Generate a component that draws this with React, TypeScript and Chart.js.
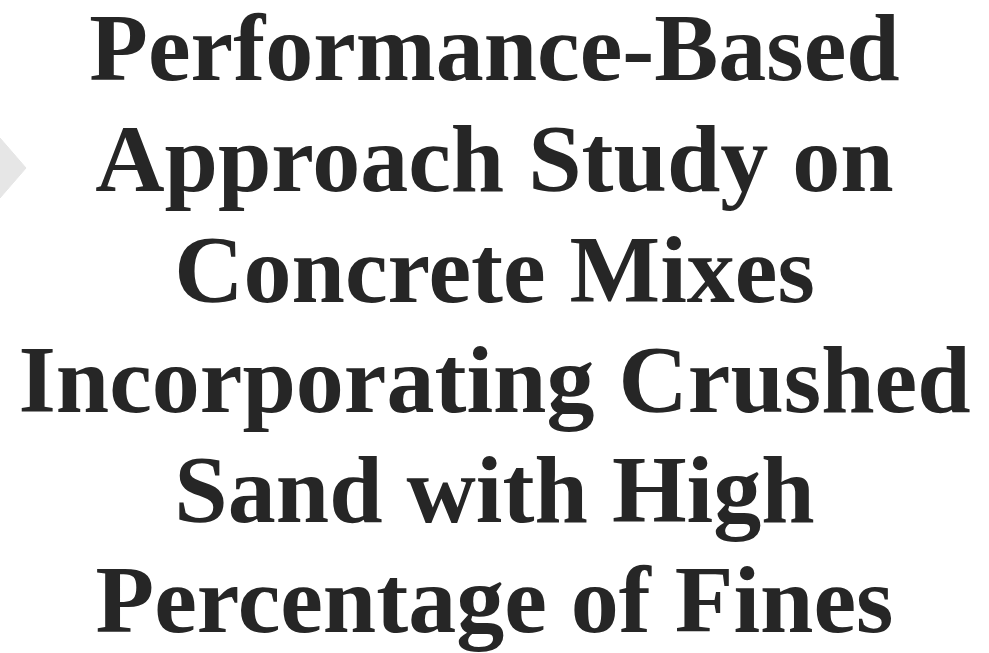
import React, { useEffect, useRef } from "react";
import { Chart, registerables } from "chart.js";

Chart.register(...registerables);

const titleLines: string[] = [
  "Performance-Based",
  "Approach Study on",
  "Concrete Mixes",
  "Incorporating Crushed",
  "Sand with High",
  "Percentage of Fines",
];
const titleBaselines: number[] = [80, 191, 301.5, 412, 522, 632];

const arrowX: number[] = [0, 26, 0, 0];
const arrowY: number[] = [138, 168, 198, 138];

const W = 989;
const H = 653;

const titlePlugin = {
  id: "bigTitle",
  afterDraw(chart: any) {
    const ctx = chart.ctx;
    ctx.save();
    ctx.fillStyle = "#262626";
    ctx.font = "bold 96px 'Liberation Serif', 'Times New Roman', serif";
    ctx.textAlign = "center";
    ctx.textBaseline = "alphabetic";
    titleLines.forEach((line, i) => {
      ctx.fillText(line, W / 2, titleBaselines[i]);
    });
    ctx.restore();
  },
};

export default function App() {
  const ref = useRef<HTMLCanvasElement | null>(null);
  useEffect(() => {
    if (!ref.current) return;
    const chart = new Chart(ref.current, {
      type: "scatter",
      data: {
        datasets: [
          {
            data: arrowX.map((x, i) => ({ x, y: arrowY[i] })),
            showLine: true,
            fill: "shape",
            backgroundColor: "#e6e6e6",
            borderColor: "#e6e6e6",
            borderWidth: 1,
            pointRadius: 0,
            tension: 0,
            clip: false,
          } as any,
        ],
      },
      options: {
        animation: false,
        responsive: false,
        maintainAspectRatio: false,
        layout: { padding: 0 },
        plugins: { legend: { display: false }, tooltip: { enabled: false }, title: { display: false } },
        scales: {
          x: { type: "linear", min: 0, max: W, display: false },
          y: { type: "linear", min: 0, max: H, reverse: true, display: false },
        },
      },
      plugins: [titlePlugin],
    });
    return () => chart.destroy();
  }, []);
  return (
    <div style={{ position: "fixed", left: 0, top: 0, width: W, height: H, background: "#fff" }}>
      <canvas ref={ref} width={W} height={H} style={{ width: W, height: H, display: "block" }} />
    </div>
  );
}
